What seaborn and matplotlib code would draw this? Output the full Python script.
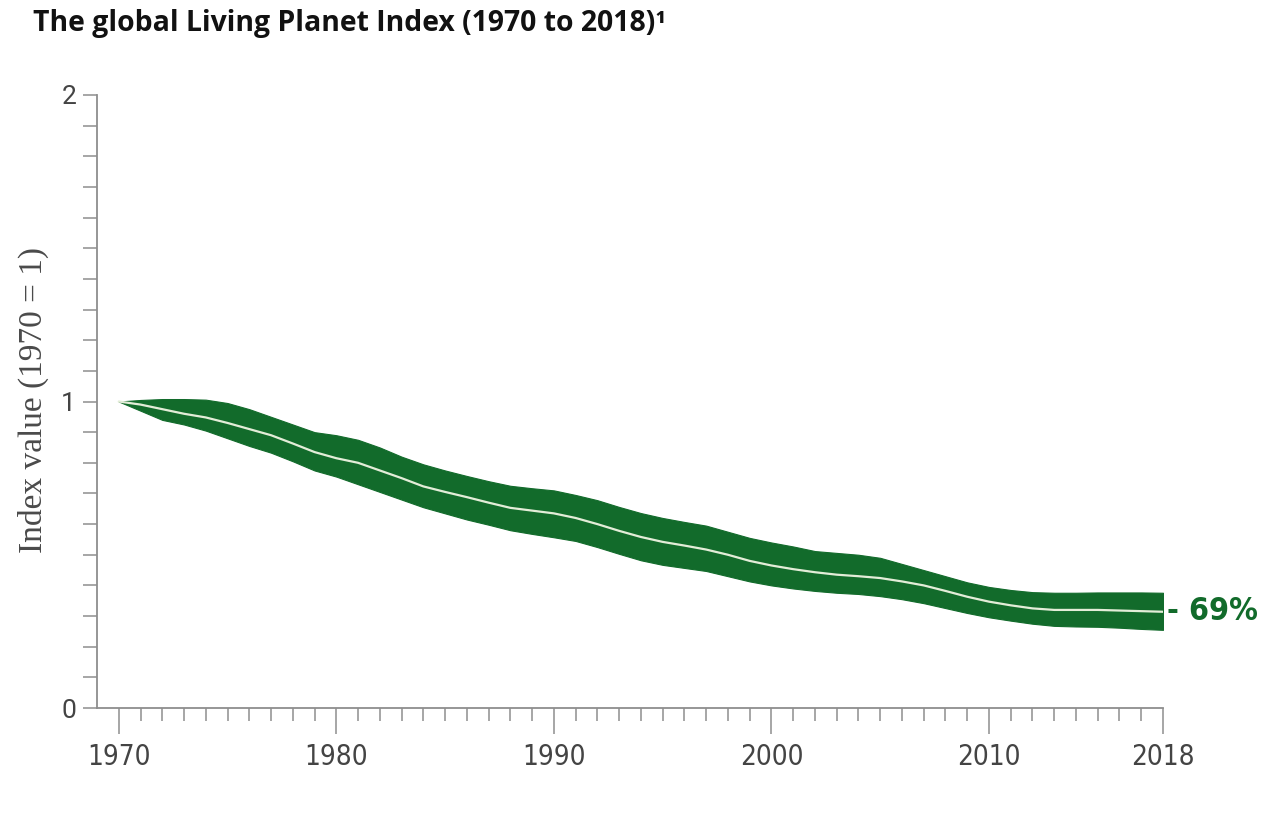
import matplotlib
matplotlib.use("Agg")
import matplotlib.pyplot as plt
from matplotlib.ticker import MultipleLocator, FixedLocator
import numpy as np
import pandas as pd
import seaborn as sns

# Living Planet Index, 1970 = 1, with its confidence band
years = list(range(1970, 2019))
index_mid = [1.000, 0.990, 0.975, 0.960, 0.948, 0.930, 0.910, 0.890, 0.863, 0.835,
             0.815, 0.800, 0.775, 0.750, 0.723, 0.705, 0.688, 0.670, 0.653, 0.644,
             0.635, 0.620, 0.600, 0.578, 0.558, 0.542, 0.530, 0.517, 0.500, 0.480,
             0.465, 0.453, 0.443, 0.435, 0.430, 0.424, 0.413, 0.400, 0.382, 0.363,
             0.347, 0.335, 0.325, 0.320, 0.320, 0.320, 0.318, 0.316, 0.314]
index_low = [1.000, 0.970, 0.940, 0.925, 0.905, 0.880, 0.855, 0.833, 0.805, 0.775,
             0.755, 0.730, 0.705, 0.680, 0.655, 0.635, 0.615, 0.598, 0.580, 0.568,
             0.557, 0.545, 0.525, 0.503, 0.482, 0.467, 0.457, 0.447, 0.430, 0.413,
             0.400, 0.390, 0.382, 0.376, 0.372, 0.365, 0.355, 0.342, 0.326, 0.310,
             0.296, 0.285, 0.275, 0.268, 0.266, 0.265, 0.262, 0.258, 0.255]
index_high = [1.000, 1.005, 1.008, 1.008, 1.006, 0.995, 0.975, 0.950, 0.925, 0.900,
              0.890, 0.875, 0.850, 0.820, 0.795, 0.775, 0.757, 0.740, 0.725, 0.717,
              0.710, 0.695, 0.678, 0.656, 0.636, 0.620, 0.607, 0.595, 0.575, 0.555,
              0.540, 0.527, 0.512, 0.506, 0.500, 0.490, 0.470, 0.450, 0.430, 0.410,
              0.395, 0.385, 0.378, 0.376, 0.376, 0.377, 0.377, 0.377, 0.376]

x_tick_years = [1970, 1980, 1990, 2000, 2010, 2018]
y_tick_values = [0, 1, 2]
change_label = "- 69%"
title_text = "The global Living Planet Index (1970 to 2018)\u00b9"
y_label = "Index value (1970 = 1)"

GREEN = "#126b2b"
AXIS_GREY = "#8e8e8e"
TEXT_GREY = "#444444"
NARROW = ["DejaVu Sans", "Roboto"]

sns.set_theme(style="white")
plt.rcParams["font.family"] = NARROW

df = pd.DataFrame({"year": years, "mid": index_mid,
                   "low": index_low, "high": index_high})

fig = plt.figure(figsize=(12.81, 8.32), dpi=100)
ax = fig.add_axes([97 / 1281, 1 - 708 / 832, (1163 - 97) / 1281, (708 - 95) / 832])

# confidence band and central trend line
ax.fill_between(df["year"], df["low"], df["high"], color=GREEN, lw=0.8,
                edgecolor=GREEN, zorder=2)
sns.lineplot(data=df, x="year", y="mid", ax=ax, color="#e3edd8", lw=1.6,
             zorder=3)

ax.set_xlim(1969.0, 2018)
ax.set_ylim(0, 2)
ax.set_xlabel("")
ax.set_ylabel("")

for side in ("top", "right"):
    ax.spines[side].set_visible(False)
for side in ("left", "bottom"):
    ax.spines[side].set_color(AXIS_GREY)
    ax.spines[side].set_linewidth(1.3)

ax.yaxis.set_major_locator(FixedLocator(y_tick_values))
ax.yaxis.set_minor_locator(MultipleLocator(0.1))
ax.set_yticklabels([str(v) for v in y_tick_values])
ax.xaxis.set_major_locator(FixedLocator(x_tick_years))
ax.xaxis.set_minor_locator(FixedLocator(years))
ax.set_xticklabels([str(v) for v in x_tick_years])

ax.tick_params(axis="y", which="both", direction="out", length=10, width=1.1,
               color=AXIS_GREY, left=True)
ax.tick_params(axis="y", which="major", labelsize=19, labelcolor=TEXT_GREY, pad=5)
for lab in ax.get_yticklabels():
    lab.set_family(["Roboto", "DejaVu Sans"])
ax.tick_params(axis="x", which="major", direction="out", length=19, width=1.1,
               color=AXIS_GREY, labelsize=20, labelcolor=TEXT_GREY, pad=6,
               bottom=True)
ax.tick_params(axis="x", which="minor", direction="out", length=9, width=1.1,
               color=AXIS_GREY, bottom=True)
for lab in ax.get_xticklabels():
    lab.set_fontstretch("condensed")

ax.annotate(change_label, xy=(df["year"].iloc[-1], df["mid"].iloc[-1]),
            xytext=(3, 0), textcoords="offset points", va="center", ha="left",
            fontsize=23, fontweight="bold", fontstretch="condensed",
            color=GREEN, annotation_clip=False)

fig.text(33 / 1281, 1 - 400 / 832, y_label, rotation=90, va="center",
         ha="center", fontsize=24, color="#4a4a4a",
         family=["Liberation Serif", "DejaVu Serif"])

fig.text(33 / 1281, 1 - 23 / 832, title_text, va="center", ha="left",
         fontsize=20.4, fontweight="bold", color="#111111",
         family=["Open Sans", "DejaVu Sans"])

fig.savefig("out.png", dpi=100, facecolor="white")
